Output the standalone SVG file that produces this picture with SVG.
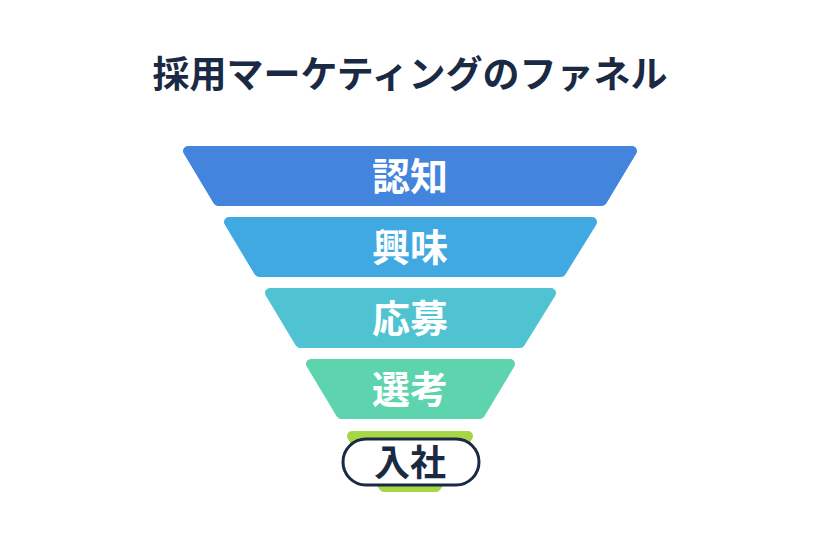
<svg xmlns="http://www.w3.org/2000/svg" width="820" height="546" viewBox="0 0 820 546">
<style>
.t{font-family:"Noto Sans CJK JP","Noto Sans",sans-serif;font-weight:700;text-anchor:middle}
.w{fill:#fff;font-size:38px}
.s{stroke-linejoin:round;stroke-width:10}
</style>
<rect width="820" height="546" fill="#fff"/>
<text class="t" x="410" y="88" font-size="37" fill="#1B2A44">採用マーケティングのファネル</text>
<g id="n1"><polygon class="s" points="188,151 632,151 602,201 218,201" fill="#4385DC" stroke="#4385DC"/><text class="t w" x="410" y="190">認知</text></g>
<g id="n2"><polygon class="s" points="229,222 592,222 561,272 259,272" fill="#40A9E2" stroke="#40A9E2"/><text class="t w" x="410" y="261">興味</text></g>
<g id="n3"><polygon class="s" points="270,293 551,293 520,343 300,343" fill="#4FC3D1" stroke="#4FC3D1"/><text class="t w" x="410" y="332">応募</text></g>
<g id="n4"><polygon class="s" points="311,364 510,364 480,414 341,414" fill="#5DD3AE" stroke="#5DD3AE"/><text class="t w" x="410" y="403">選考</text></g>
<g id="n5"><polygon class="s" points="352,436 468,436 436,487 384,487" fill="#A6D645" stroke="#A6D645"/><rect x="343" y="439" width="136" height="46" rx="23" fill="#fff" stroke="#1B2A44" stroke-width="3"/><text class="t" x="410" y="476" font-size="36" fill="#1B2A44">入社</text></g>
<g id="connectors"/>
</svg>
